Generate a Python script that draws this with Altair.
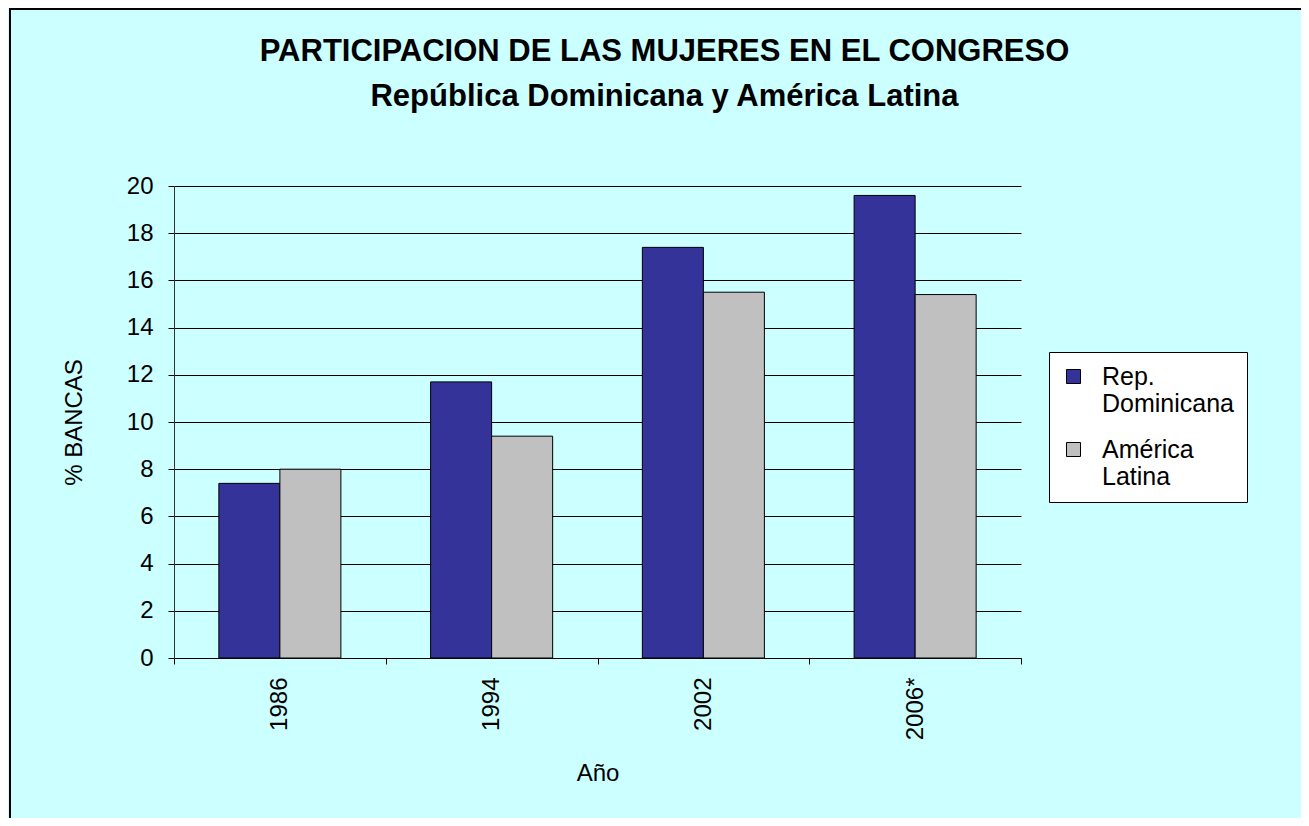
import altair as alt
import pandas as pd

years = ["1986", "1994", "2002", "2006*"]
series = ["Rep. Dominicana", "América Latina"]
rep_dominicana = [7.4, 11.7, 17.4, 19.6]
america_latina = [8.0, 9.4, 15.5, 15.4]
colors = ["#333399", "#C0C0C0"]
y_ticks = [0, 2, 4, 6, 8, 10, 12, 14, 16, 18, 20]

rows = []
for i, yr in enumerate(years):
    rows.append({"year": yr, "serie": series[0], "value": rep_dominicana[i]})
    rows.append({"year": yr, "serie": series[1], "value": america_latina[i]})
df = pd.DataFrame(rows)

FONT = "Liberation Sans"
W, H = 847, 472

bars = alt.Chart(df).mark_bar(stroke="black", strokeWidth=1).encode(
    x=alt.X(
        "year:N",
        sort=years,
        scale=alt.Scale(paddingInner=0, paddingOuter=0),
        axis=alt.Axis(
            title="Año",
            labelAngle=270,
            labelAlign="right",
            labelBaseline="middle",
            labelFontSize=24,
            labelPadding=13,
            tickBand="extent",
            tickSize=6,
            tickColor="black",
            domainColor="black",
            titleFontSize=24,
            titleFontWeight="normal",
            titlePadding=22,
            grid=False,
        ),
    ),
    xOffset=alt.XOffset(
        "serie:N", sort=series, scale=alt.Scale(paddingInner=0, paddingOuter=0.735)
    ),
    y=alt.Y(
        "value:Q",
        scale=alt.Scale(domain=[0, 20], nice=False),
        axis=alt.Axis(
            title="% BANCAS",
            values=y_ticks,
            labelFontSize=24,
            labelPadding=15,
            tickSize=6,
            tickColor="black",
            domainColor="#333333",
            grid=True,
            gridColor="black",
            gridOpacity=1,
            gridWidth=1,
            titleFontSize=24,
            titleFontWeight="normal",
            titlePadding=40,
        ),
    ),
    color=alt.Color(
        "serie:N",
        sort=series,
        scale=alt.Scale(domain=series, range=colors),
        legend=alt.Legend(
            title=None,
            orient="none",
            legendX=875,
            legendY=166,
            fillColor="white",
            strokeColor="black",
            padding=12,
            symbolType="square",
            symbolSize=196,
            symbolStrokeColor="black",
            symbolStrokeWidth=1,
            labelFontSize=25,
            labelColor="black",
            labelExpr="split(datum.label, ' ')",
            labelBaseline="middle",
            labelOffset=16,
            labelLimit=400,
            rowPadding=20,
        ),
    ),
)

frame = alt.Chart(pd.DataFrame({"f": [0]})).mark_rect(
    fillOpacity=0, stroke="black", strokeWidth=2
).encode(
    x=alt.value(-164), x2=alt.value(W + 320),
    y=alt.value(-177), y2=alt.value(H + 200),
)

chart = alt.layer(bars, frame).properties(
    width=W,
    height=H,
    padding={"left": 166, "top": 178, "right": 280, "bottom": 160},
    autosize=alt.AutoSizeParams(type="none"),
    background="#CCFFFF",
    title=alt.TitleParams(
        text=["PARTICIPACION DE LAS MUJERES EN EL CONGRESO",
              "República Dominicana y América Latina"],
        fontSize=31,
        fontWeight="bold",
        font=FONT,
        color="black",
        anchor="middle",
        baseline="bottom",
        dx=67,
        offset=-136,
        lineHeight=45,
    ),
).configure(
    font=FONT,
).configure_view(
    strokeWidth=0, fill="#CCFFFF"
).configure_axis(
    labelColor="black", titleColor="black", labelFont=FONT, titleFont=FONT
).configure_legend(
    labelFont=FONT
)

chart.save("out.html", embed_options={"renderer": "svg", "actions": False})
